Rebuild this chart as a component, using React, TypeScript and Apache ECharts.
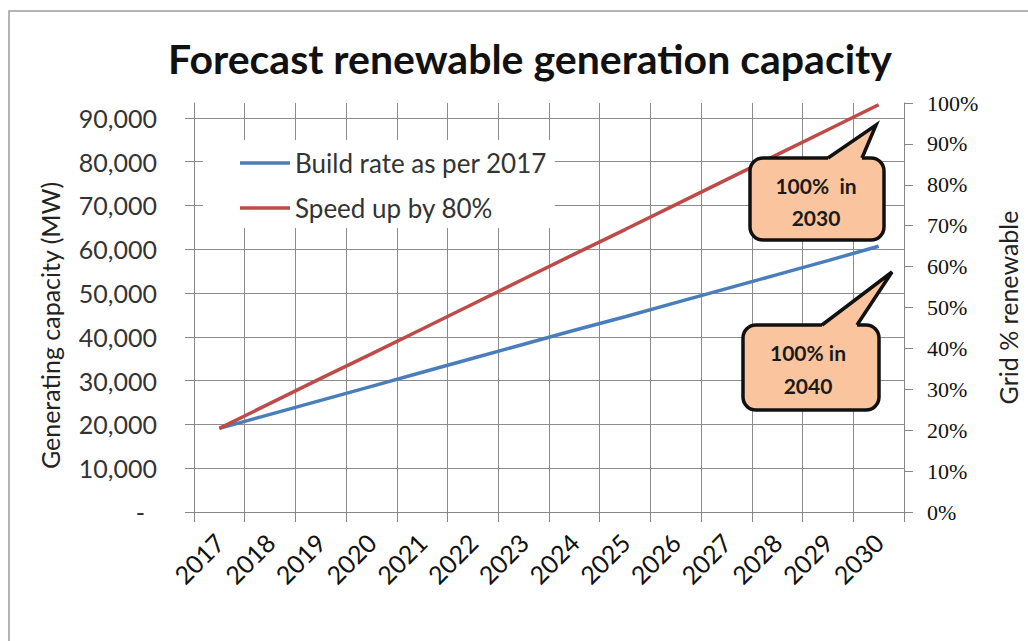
import React, { useEffect, useRef } from "react";
import * as echarts from "echarts";

const years = ["2017", "2018", "2019", "2020", "2021", "2022", "2023", "2024", "2025", "2026", "2027", "2028", "2029", "2030"];
const buildRate = [19100, 22300, 25500, 28700, 31900, 35100, 38300, 41500, 44600, 47800, 51000, 54200, 57400, 60700];
const speedUp = [19100, 24800, 30500, 36100, 41800, 47500, 53200, 58900, 64500, 70200, 75900, 81600, 87300, 93000];
const leftTicks = [0, 10000, 20000, 30000, 40000, 50000, 60000, 70000, 80000, 90000];
const seriesNames = ["Build rate as per 2017", "Speed up by 80%"];
const callout1Lines = ["100%  in", "2030"];
const callout2Lines = ["100% in", "2040"];

const GRID = { left: 194, right: 115, top: 103, bottom: 129 };

function callout(
  rx: number, ry: number, rw: number, rh: number,
  baseL: number, baseR: number, tip: [number, number],
  lines: string[], tx: number, ty: number[]
) {
  const stroke = "#111";
  const fill = "#FAC59E";
  const els: any[] = [
    { type: "rect", z: 100, shape: { x: rx, y: ry, width: rw, height: rh, r: 13 }, style: { fill, stroke, lineWidth: 3.5 } },
    {
      type: "polygon", z: 101,
      shape: { points: [[baseL, ry + 2], [baseL, ry], tip, [baseR, ry], [baseR, ry + 2]] },
      style: { fill, stroke: null },
    },
    {
      type: "polyline", z: 102,
      shape: { points: [[baseL, ry], tip, [baseR, ry]] },
      style: { stroke, lineWidth: 3.5, fill: null, lineJoin: "miter" },
    },
  ];
  lines.forEach((t, i) => {
    els.push({
      type: "text", z: 103, x: tx, y: ty[i],
      style: { text: t, align: "center", verticalAlign: "middle", fontFamily: "Lato", fontWeight: "bold", fontSize: 21, fill: "#1a1a1a" },
    });
  });
  return els;
}

export default function App() {
  const ref = useRef<HTMLDivElement>(null);
  useEffect(() => {
    if (!ref.current) return;
    const chart = echarts.init(ref.current, null, { renderer: "svg" });
    const gridColor = "#8c8c8c";
    chart.setOption({
      animation: false,
      backgroundColor: "#fff",
      title: {
        text: "Forecast renewable generation capacity",
        left: 525,
        top: 33,
        textAlign: "center",
        textStyle: { fontFamily: "Lato", fontWeight: "bold", fontSize: 41, color: "#111" },
      },
      grid: { left: GRID.left, right: GRID.right, top: GRID.top, bottom: GRID.bottom, containLabel: false },
      legend: {
        orient: "vertical",
        left: 203,
        top: 140,
        icon: "rect",
        itemWidth: 50,
        itemHeight: 3.5,
        itemGap: 17,
        backgroundColor: "#fff",
        padding: [9, 8, 6, 37],
        textStyle: { fontFamily: "Lato", fontSize: 26, color: "#333", lineHeight: 28 },
        data: seriesNames,
        z: 5,
      },
      xAxis: {
        type: "category",
        data: years,
        boundaryGap: true,
        axisLine: { lineStyle: { color: "#868686", width: 1 } },
        axisTick: { show: true, length: 10, interval: 0, lineStyle: { color: "#868686" } },
        axisLabel: { rotate: 45, margin: 26, interval: 0, fontFamily: "Lato", fontSize: 25, color: "#111" },
        splitLine: { show: true, interval: 0, lineStyle: { color: gridColor, width: 1 } },
      },
      yAxis: [
        {
          type: "value",
          position: "left",
          min: 0,
          max: 93400,
          interval: 10000,
          name: "Generating capacity (MW)",
          nameLocation: "middle",
          nameGap: 132,
          nameTextStyle: { fontFamily: "Lato", fontSize: 25, color: "#222", padding: [0, 36, 0, 0] },
          axisLine: { show: true, lineStyle: { color: "#868686", width: 1 } },
          axisTick: { show: true, length: 9, customValues: leftTicks, lineStyle: { color: "#868686" } },
          axisLabel: {
            margin: 37,
            customValues: leftTicks,
            fontFamily: "Lato",
            fontSize: 25,
            color: "#333",
            formatter: (v: number) => (v === 0 ? "{d|-}" : v.toLocaleString("en-US")),
            rich: { d: { fontFamily: "Lato", fontSize: 25, color: "#333", padding: [0, 12, 0, 0] } },
          },
          splitLine: { show: true, lineStyle: { color: gridColor, width: 1 } },
        },
        {
          type: "value",
          position: "right",
          min: 0,
          max: 100,
          interval: 10,
          name: "Grid % renewable",
          nameLocation: "middle",
          nameGap: 91,
          nameTextStyle: { fontFamily: "Lato", fontSize: 25, color: "#222" },
          axisLine: { show: true, lineStyle: { color: "#868686", width: 1 } },
          axisTick: { show: true, length: 9, lineStyle: { color: "#868686" } },
          axisLabel: { margin: 23, fontFamily: "Liberation Serif", fontSize: 22, color: "#111", formatter: "{value}%" },
          splitLine: { show: false },
        },
      ],
      series: [
        {
          name: seriesNames[0],
          type: "line",
          data: buildRate,
          yAxisIndex: 0,
          symbol: "none",
          lineStyle: { color: "#4A7EBB", width: 3.5 },
          itemStyle: { color: "#4A7EBB" },
          z: 3,
        },
        {
          name: seriesNames[1],
          type: "line",
          data: speedUp,
          yAxisIndex: 0,
          symbol: "none",
          lineStyle: { color: "#BE4B48", width: 3.5 },
          itemStyle: { color: "#BE4B48" },
          z: 3,
        },
      ],
      graphic: [
        { type: "rect", z: 0, silent: true, shape: { x: 9, y: 11, width: 1100, height: 1000 }, style: { fill: null, stroke: "#9a9a9a", lineWidth: 1.5 } },
        ...callout(750, 158, 134, 82, 828, 862, [876, 125], callout1Lines, 816, [185, 217]),
        ...callout(743, 325, 136, 85, 822, 857, [892, 272], callout2Lines, 808, [352, 385]),
      ],
    });
    return () => chart.dispose();
  }, []);
  return <div ref={ref} style={{ position: "fixed", left: 0, top: 0, width: 1028, height: 641, background: "#fff" }} />;
}
